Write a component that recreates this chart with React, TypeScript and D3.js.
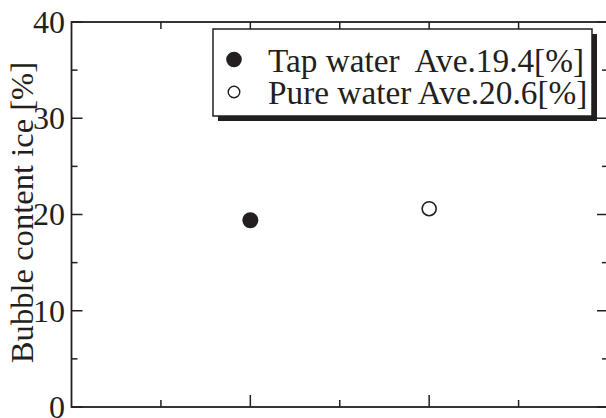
import React from "react";
import * as d3 from "d3";

const categories = ["Tap water", "Pure water"];
const categoryX = [1, 2];
const values = [19.4, 20.6];
const filled = [true, false];
const legendLabels = ["Tap water  Ave.19.4[%]", "Pure water Ave.20.6[%]"];
const yMajorTicks = [0, 10, 20, 30, 40];
const yMinorTicks = [5, 15, 25, 35];
const xMajorTicks = [1, 2];
const xMinorTicks = [0.5, 1.5, 2.5];
const yTitle = "Bubble content ice [%]";

const W = 606;
const H = 418;
const INK = "#231f20";
const FONT = "Liberation Serif";

export default function App() {
  const left = 71.5;
  const right = 608;
  const top = 22;
  const bottom = 407;
  const x = d3.scaleLinear().domain([0, 3]).range([left, right]);
  const y = d3.scaleLinear().domain([0, 40]).range([bottom, top]);

  const majorLen = 11;
  const minorLen = 6;
  const txt = (size: number) =>
    ({ fontFamily: FONT, fontSize: size + "px", fill: INK } as React.CSSProperties);

  return (
    <svg
      width={W}
      height={H}
      style={{ position: "absolute", left: 0, top: 0, display: "block", background: "#fff", fontFamily: FONT }}
    >
      <rect x={0} y={0} width={W} height={H} fill="#fff" />
      <rect
        x={left}
        y={top}
        width={right - left}
        height={bottom - top}
        fill="none"
        stroke={INK}
        strokeWidth={1.8}
      />
      {yMajorTicks.map((t) => (
        <g key={"ym" + t}>
          <line x1={left} x2={left + majorLen} y1={y(t)} y2={y(t)} stroke={INK} strokeWidth={1.5} />
          <line x1={right} x2={right - majorLen} y1={y(t)} y2={y(t)} stroke={INK} strokeWidth={1.5} />
          <text x={65} y={y(t)} dy="0.34em" textAnchor="end" style={txt(32)}>
            {t}
          </text>
        </g>
      ))}
      {yMinorTicks.map((t) => (
        <g key={"yn" + t}>
          <line x1={left} x2={left + minorLen} y1={y(t)} y2={y(t)} stroke={INK} strokeWidth={1.5} />
          <line x1={right} x2={right - minorLen} y1={y(t)} y2={y(t)} stroke={INK} strokeWidth={1.5} />
        </g>
      ))}
      {xMajorTicks.map((t) => (
        <g key={"xm" + t}>
          <line x1={x(t)} x2={x(t)} y1={bottom} y2={bottom - 12} stroke={INK} strokeWidth={1.5} />
          <line x1={x(t)} x2={x(t)} y1={top} y2={top + 12} stroke={INK} strokeWidth={1.5} />
        </g>
      ))}
      {xMinorTicks.map((t) => (
        <g key={"xn" + t}>
          <line x1={x(t)} x2={x(t)} y1={bottom} y2={bottom - 7} stroke={INK} strokeWidth={1.5} />
          <line x1={x(t)} x2={x(t)} y1={top} y2={top + 7} stroke={INK} strokeWidth={1.5} />
        </g>
      ))}
      <text
        transform={`translate(33, ${(top + bottom) / 2 - 2}) rotate(-90)`}
        textAnchor="middle"
        style={txt(32.6)}
      >
        {yTitle}
      </text>
      {categories.map((c, i) =>
        filled[i] ? (
          <circle key={c} cx={x(categoryX[i])} cy={y(values[i])} r={8} fill={INK} />
        ) : (
          <circle
            key={c}
            cx={x(categoryX[i])}
            cy={y(values[i])}
            r={7}
            fill="#fff"
            stroke={INK}
            strokeWidth={1.6}
          />
        )
      )}
      <g>
        <rect x={218} y={34} width={379} height={87} fill={INK} />
        <rect x={213} y={29} width={379} height={87} fill="#fff" stroke={INK} strokeWidth={1.5} />
        {legendLabels.map((l, i) => (
          <g key={l}>
            {filled[i] ? (
              <circle cx={234} cy={59.5 + i * 32.5} r={7.8} fill={INK} />
            ) : (
              <circle cx={234} cy={59.5 + i * 32.5} r={5.8} fill="#fff" stroke={INK} strokeWidth={1.4} />
            )}
            <text x={268} y={71.8 + i * 32.5} style={{ ...txt(33.3), whiteSpace: "pre" }}>
              {l}
            </text>
          </g>
        ))}
      </g>
    </svg>
  );
}
